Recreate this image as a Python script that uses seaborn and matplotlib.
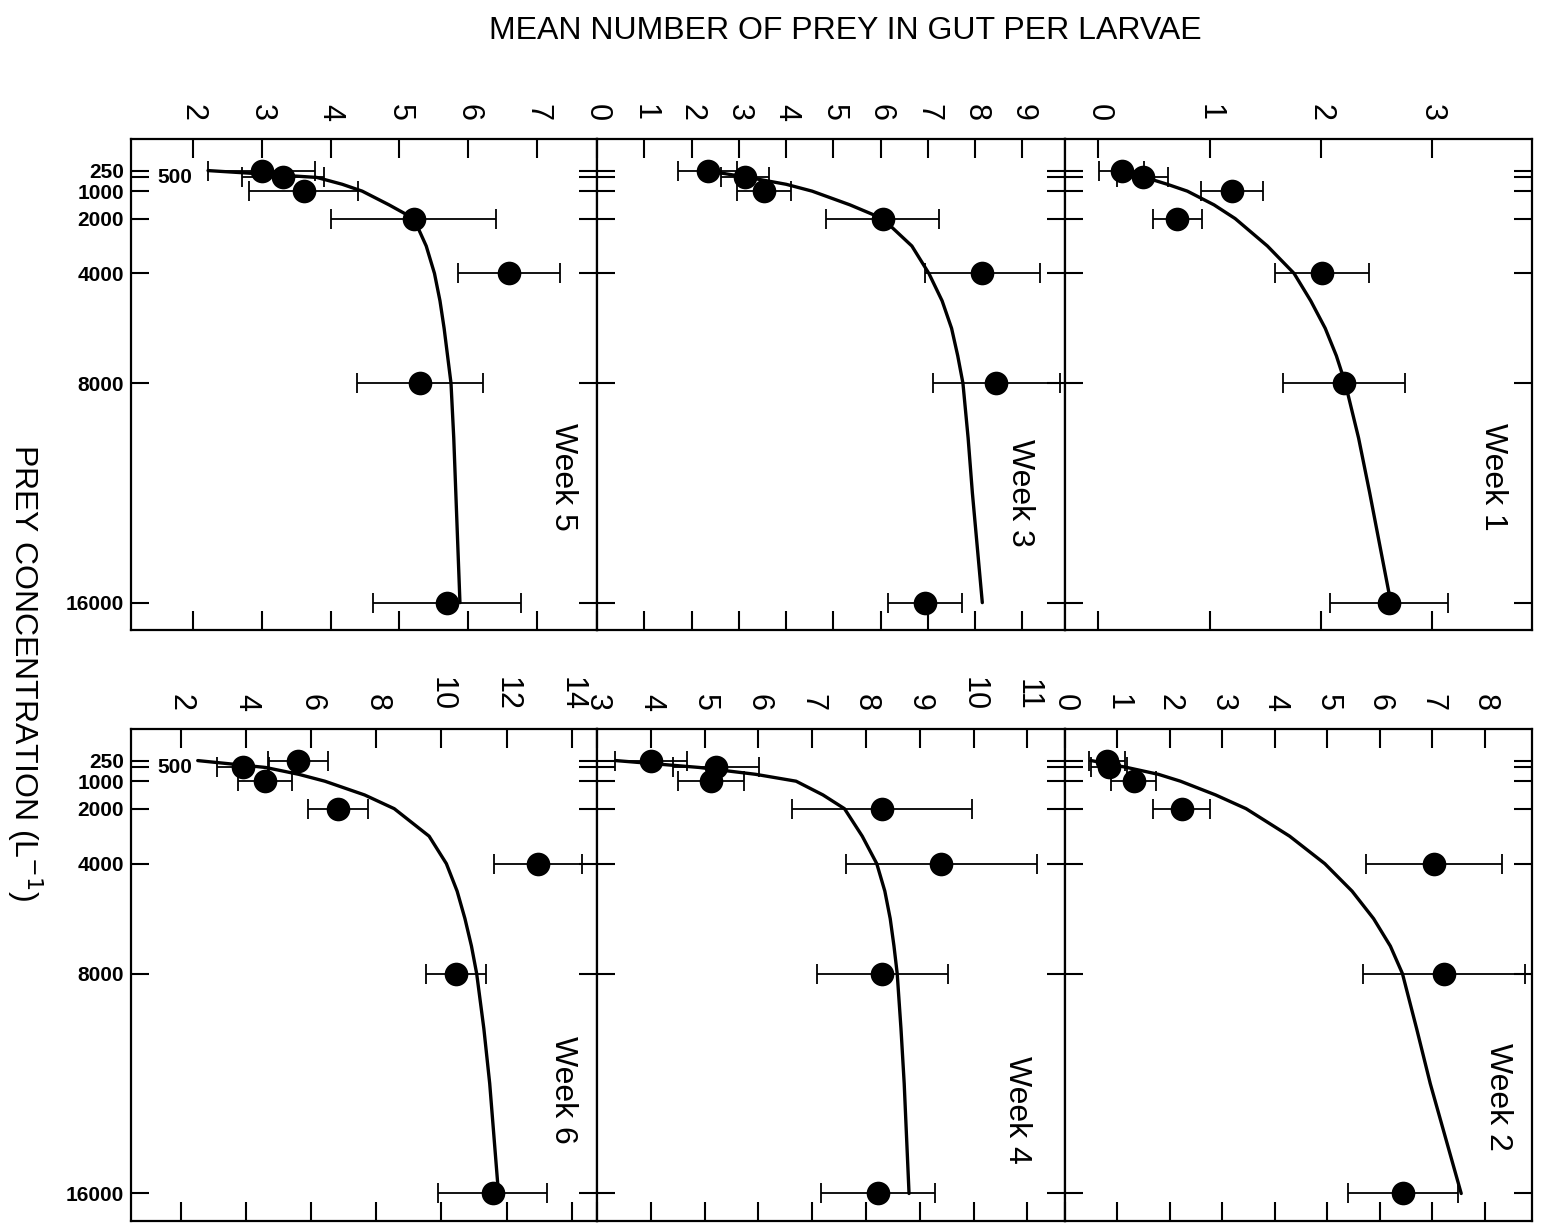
import matplotlib
matplotlib.use("Agg")
import matplotlib.pyplot as plt
import matplotlib.transforms as mtransforms
import pandas as pd
import seaborn as sns

# prey concentration (per litre) at which larvae were sampled
conc = [250, 500, 1000, 2000, 4000, 8000, 16000]
conc_labels = ['250', '', '1000', '2000', '4000', '8000', '16000']

# mean number of prey in gut per larva (+/- error)
week1_mean = [0.21, 0.40, 1.20, 0.71, 2.01, 2.21, 2.61]
week1_err = [0.20, 0.23, 0.28, 0.22, 0.42, 0.55, 0.53]
week2_mean = [0.80, 0.84, 1.31, 2.22, 7.03, 7.22, 6.44]
week2_err = [0.35, 0.35, 0.43, 0.55, 1.30, 1.55, 1.05]
week3_mean = [2.34, 3.13, 3.53, 6.04, 8.15, 8.45, 6.94]
week3_err = [0.62, 0.51, 0.58, 1.19, 1.22, 1.34, 0.78]
week4_mean = [4.00, 5.21, 5.12, 8.30, 9.40, 8.30, 8.23]
week4_err = [0.67, 0.80, 0.62, 1.67, 1.77, 1.22, 1.06]
week5_mean = [3.00, 3.31, 3.61, 5.21, 6.59, 5.30, 5.69]
week5_err = [0.78, 0.60, 0.79, 1.20, 0.74, 0.92, 1.07]
week6_mean = [5.59, 3.90, 4.58, 6.82, 12.95, 10.44, 11.57]
week6_err = [0.92, 0.80, 0.84, 0.93, 1.35, 0.92, 1.68]

# fitted curves, read at these concentrations
fit_conc = [250, 500, 750, 1000, 1500, 2000, 3000, 4000, 5000, 6000, 7000, 8000,
            10000, 12000, 16000]
week1_fit = [0.25, 0.42, 0.62, 0.80, 1.04, 1.23, 1.52, 1.76, 1.91, 2.04, 2.14, 2.22,
             2.34, 2.44, 2.63]
week2_fit = [0.50, 1.18, 1.78, 2.20, 2.87, 3.45, 4.28, 4.95, 5.47, 5.88, 6.20, 6.43,
             6.70, 6.96, 7.55]
week3_fit = [2.30, 3.20, 4.00, 4.55, 5.35, 6.04, 6.66, 7.02, 7.30, 7.50, 7.63, 7.74,
             7.85, 7.94, 8.15]
week4_fit = [3.35, 4.90, 5.95, 6.70, 7.20, 7.60, 7.93, 8.20, 8.35, 8.45, 8.52, 8.58,
             8.65, 8.71, 8.80]
week5_fit = [2.22, 3.80, 4.17, 4.46, 4.85, 5.21, 5.39, 5.51, 5.59, 5.65, 5.70, 5.75,
             5.79, 5.82, 5.88]
week6_fit = [2.52, 4.60, 5.62, 6.42, 7.64, 8.55, 9.62, 10.15, 10.48, 10.72, 10.92, 11.08,
             11.30, 11.48, 11.75]

sns.set_theme(style="ticks")
plt.rcParams['font.family'] = ['Liberation Sans', 'DejaVu Sans']
plt.rcParams['text.color'] = 'black'
plt.rcParams['xtick.color'] = 'black'
plt.rcParams['ytick.color'] = 'black'
plt.rcParams['axes.edgecolor'] = 'black'

fig = plt.figure(figsize=(15.48, 12.26), dpi=100)

col_left = [0.0846, 0.3857, 0.6880]
col_width = [0.3010, 0.3023, 0.3017]
row_bottom = [0.4861, 0.0041]
row_height = [0.4005, 0.4013]

# (name, mean, err, fit, row, col, xlim, xticks, label position)
panels = [
    ('Week 5', week5_mean, week5_err, week5_fit, 0, 0, (1.1, 7.87), range(2, 8), (0.927, 0.312)),
    ('Week 3', week3_mean, week3_err, week3_fit, 0, 1, (0, 9.9), range(0, 10), (0.904, 0.279)),
    ('Week 1', week1_mean, week1_err, week1_fit, 0, 2, (-0.3, 3.9), range(0, 4), (0.916, 0.312)),
    ('Week 6', week6_mean, week6_err, week6_fit, 1, 0, (0.47, 14.77), range(2, 15, 2), (0.927, 0.266)),
    ('Week 4', week4_mean, week4_err, week4_fit, 1, 1, (3.0, 11.7), range(3, 12), (0.897, 0.226)),
    ('Week 2', week2_mean, week2_err, week2_fit, 1, 2, (0, 8.9), range(0, 9), (0.927, 0.252)),
]

for name, mean, err, fit, r, c, xlim, xticks, lab in panels:
    ax = fig.add_axes([col_left[c], row_bottom[r], col_width[c], row_height[r]])
    df = pd.DataFrame({'conc': conc, 'mean': mean, 'err': err})
    curve = pd.DataFrame({'conc': fit_conc, 'prey': fit})

    sns.lineplot(data=curve, x='prey', y='conc', sort=False, estimator=None,
                 color='black', linewidth=2.4, ax=ax, zorder=3)
    ax.errorbar(df['mean'], df['conc'], xerr=df['err'], fmt='none',
                ecolor='black', elinewidth=1.3, capsize=7, capthick=1.3, zorder=2)
    sns.scatterplot(data=df, x='mean', y='conc', color='black', s=290,
                    linewidth=0, ax=ax, zorder=4)

    ax.set_xlim(*xlim)
    ax.set_ylim(17000, -900)
    ax.set_xticks(list(xticks))
    ax.set_yticks(conc)
    ax.set_xlabel('')
    ax.set_ylabel('')

    ax.xaxis.set_ticks_position('both')
    ax.tick_params(axis='x', which='both', direction='in', length=14, width=1.5,
                   top=True, bottom=True, labeltop=True, labelbottom=False,
                   labelrotation=270, labelsize=22, pad=13)
    ax.tick_params(axis='y', which='both', direction='in', length=13, width=1.5,
                   left=True, right=True, labelleft=(c == 0), labelright=False,
                   labelsize=15, pad=5)
    if c == 0:
        ax.set_yticklabels(conc_labels, fontweight='bold')
        trans = mtransforms.blended_transform_factory(ax.transAxes, ax.transData)
        ax.text(0.056, 500, '500', transform=trans, fontsize=15,
                fontweight='bold', ha='left', va='center')

    for sp in ax.spines.values():
        sp.set_visible(True)
        sp.set_linewidth(1.6)
        sp.set_color('black')

    ax.text(lab[0], lab[1], name, transform=ax.transAxes, rotation=270,
            fontsize=23, ha='center', va='center')

fig.text(0.546, 0.9745, 'MEAN NUMBER OF PREY IN GUT PER LARVAE',
         fontsize=23, ha='center', va='center')
fig.text(0.016, 0.451, 'PREY CONCENTRATION (L$^{-1}$)', rotation=270,
         fontsize=23, ha='center', va='center')

fig.savefig('out.png', dpi=100)
